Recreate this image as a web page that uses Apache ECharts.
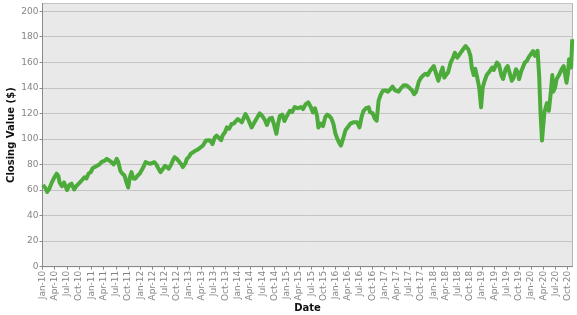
<!DOCTYPE html>
<html>
<head>
<meta charset="utf-8">
<script src="https://cdn.jsdelivr.net/npm/echarts@6/dist/echarts.min.js"></script>
<style>
html,body{margin:0;padding:0;background:#fff;}
#chart{width:577px;height:315px;}
</style>
</head>
<body>
<div id="chart"></div>
<script>
const monthNames = ['Jan','Feb','Mar','Apr','May','Jun','Jul','Aug','Sep','Oct','Nov','Dec'];
const yTicks = [0,20,40,60,80,100,120,140,160,180,200];

const dates = [
'2010-01-04','2010-01-20','2010-02-05','2010-02-20','2010-03-10','2010-03-25','2010-04-15','2010-04-28','2010-05-07','2010-05-25','2010-06-10','2010-06-20','2010-07-02','2010-07-20','2010-08-05','2010-08-25','2010-09-10','2010-09-28','2010-10-08','2010-10-25','2010-11-10','2010-11-25','2010-12-10','2010-12-28',
'2011-01-10','2011-01-28','2011-02-10','2011-02-28','2011-03-15','2011-03-25','2011-04-10','2011-04-25','2011-05-10','2011-05-28','2011-06-15','2011-06-28','2011-07-08','2011-07-20','2011-08-05','2011-08-20','2011-09-05','2011-09-20','2011-10-03','2011-10-15','2011-10-28','2011-11-10','2011-11-25','2011-12-10','2011-12-28',
'2012-01-15','2012-01-30','2012-02-10','2012-02-28','2012-03-15','2012-03-30','2012-04-15','2012-04-30','2012-05-15','2012-06-01','2012-06-15','2012-07-05','2012-07-20','2012-08-01','2012-08-20','2012-09-05','2012-09-15','2012-10-05','2012-10-15','2012-11-05','2012-11-15','2012-12-05','2012-12-15','2012-12-31',
'2013-01-15','2013-02-01','2013-02-20','2013-03-10','2013-03-28','2013-04-15','2013-05-05','2013-05-20','2013-06-05','2013-06-24','2013-07-10','2013-07-25','2013-08-10','2013-08-28','2013-09-10','2013-09-25','2013-10-10','2013-10-28','2013-11-15','2013-11-30','2013-12-15','2013-12-31',
'2014-01-15','2014-01-31','2014-02-25','2014-03-15','2014-04-12','2014-04-28','2014-05-20','2014-06-12','2014-06-30','2014-07-20','2014-08-05','2014-08-25','2014-09-12','2014-09-25','2014-10-15','2014-10-28','2014-11-10','2014-11-28','2014-12-15','2014-12-28',
'2015-01-10','2015-01-25','2015-02-10','2015-02-28','2015-03-15','2015-03-25','2015-04-15','2015-05-01','2015-05-20','2015-06-10','2015-06-28','2015-07-15','2015-07-30','2015-08-15','2015-08-25','2015-09-10','2015-09-28','2015-10-15','2015-10-30','2015-11-15','2015-11-30','2015-12-15','2015-12-31',
'2016-01-15','2016-01-28','2016-02-10','2016-02-25','2016-03-15','2016-03-30','2016-04-20','2016-05-12','2016-05-25','2016-06-10','2016-06-27','2016-07-15','2016-07-28','2016-08-15','2016-09-05','2016-09-15','2016-10-05','2016-10-20','2016-11-04','2016-11-18','2016-12-05','2016-12-20',
'2017-01-10','2017-01-28','2017-02-15','2017-03-01','2017-03-20','2017-04-15','2017-05-05','2017-05-25','2017-06-15','2017-07-05','2017-07-25','2017-08-10','2017-08-25','2017-09-15','2017-10-01','2017-10-20','2017-11-05','2017-11-20','2017-12-05','2017-12-20',
'2018-01-05','2018-01-20','2018-02-08','2018-02-25','2018-03-10','2018-03-23','2018-04-05','2018-04-20','2018-05-10','2018-05-25','2018-06-10','2018-06-28','2018-07-20','2018-08-10','2018-08-30','2018-09-20','2018-10-05','2018-10-15','2018-10-30','2018-11-10','2018-11-25','2018-12-10','2018-12-24',
'2019-01-05','2019-01-20','2019-02-05','2019-02-25','2019-03-15','2019-03-28','2019-04-20','2019-05-05','2019-05-25','2019-06-05','2019-06-25','2019-07-10','2019-07-25','2019-08-10','2019-08-25','2019-09-10','2019-09-25','2019-10-03','2019-10-20','2019-11-15','2019-11-30','2019-12-15','2019-12-31',
'2020-01-17','2020-01-31','2020-02-19','2020-03-01','2020-03-12','2020-03-23','2020-04-01','2020-04-10','2020-04-28','2020-05-13','2020-05-28','2020-06-08','2020-06-15','2020-06-28','2020-07-10','2020-07-28','2020-08-18','2020-09-02','2020-09-23','2020-10-05','2020-10-12','2020-10-28','2020-11-05'
];

const values = [
64,62,58.5,61,66,69,72.8,71,66,63,66,65,60,64,65,60.5,63,65,66,68,70,69,72.8,74,
77,78,79,80,81.8,80.5,83,84.4,84,82,80,82,84.4,82,75,72.8,71.5,66,62,70,74,69,68.9,71,72.8,
76,79,81.8,81,80.5,82,81.8,80,77,74,75,79,78,76.7,80,84,85.7,84,83,80,78,81,84.4,86,
88.5,89.6,91,92,93.5,95,98.7,100,99,96,101,102.6,101,99,103,105,109,108,111.7,112,113,115.6,
115.6,113,119.5,116,109,112,116,120,118,115,111,116,116.5,112,104,112,118,119,114,117,
116,122,121,125,126,124,125,123.4,127,128.6,125,120.8,124,118,109,112,110,117,119,118,116,112,104,
100,97,94.8,100,107,109,112,113,112,113,109,118,122,124,124.7,121,120,116,114.3,130,135,137.7,
138,137,139,141,138,137,140,142,141.8,140,138,135,137,145,148,150,151,150,153,155,
157,158,145.5,152,155.8,148,150,152,160,163,167.5,163.6,167,170,172.7,170,165,156,150,155,148,140,124.7,
140,145.5,150,153,155.8,154,159.7,158,149.3,147,155,157,156,145.5,148,154.6,152,146.8,153,159.7,161,164,166.3,
168.8,165,169,150,120,98.7,110,120.8,128,122,136.3,150,137,140,146.8,150,154.6,157,144,153,162.4,156,178
];

function monthIndex(s){
  const p = s.split('-').map(Number);
  const dim = new Date(p[0], p[1], 0).getDate();
  return (p[0]-2010)*12 + (p[1]-1) + (p[2]-1)/dim;
}
const seriesData = dates.map((d,i)=>[monthIndex(d), values[i]]);

const chart = echarts.init(document.getElementById('chart'), null, {renderer:'canvas'});
const labelColor = '#858585';
const font = 'DejaVu Sans';
chart.setOption({
  animation:false,
  grid:{left:42.5, right:4.5, top:3.5, bottom:48.3, containLabel:false, outerBoundsMode:'none',
        show:true, backgroundColor:'#e9e9e9', borderColor:'#b4b4b4', borderWidth:1},
  xAxis:{
    type:'value', min:0, max:130.2, interval:3,
    name:'Date', nameLocation:'middle', nameGap:36.5, nameMoveOverlap:false,
    nameTextStyle:{fontFamily:font, fontWeight:'bold', fontSize:10, color:'#111'},
    axisLine:{show:true, lineStyle:{color:'#8a8a8a', width:1}},
    axisTick:{show:true, length:3, lineStyle:{color:'#8a8a8a'}},
    splitLine:{show:false},
    axisLabel:{
      rotate:90, margin:4, fontFamily:font, fontSize:9, color:labelColor,
      showMaxLabel:false, hideOverlap:false,
      formatter:function(v){
        const r = Math.round(v);
        if (Math.abs(v-r)>1e-6 || r%3!==0) return '';
        const yy = 10 + Math.floor(r/12);
        return monthNames[r%12] + '-' + (yy<10?'0'+yy:yy);
      }
    }
  },
  yAxis:{
    type:'value', min:0, max:206, interval:20,
    name:'Closing Value ($)', nameLocation:'middle', nameGap:26, nameMoveOverlap:false,
    nameTextStyle:{fontFamily:font, fontWeight:'bold', fontSize:10, color:'#111'},
    axisLine:{show:true, lineStyle:{color:'#8a8a8a', width:1}},
    axisTick:{show:true, length:3, lineStyle:{color:'#8a8a8a'}},
    splitLine:{show:true, lineStyle:{color:'#c4c4c4', width:1}},
    axisLabel:{
      margin:4, fontFamily:font, fontSize:9, color:labelColor, showMaxLabel:false,
      formatter:function(v){ return yTicks.indexOf(Math.round(v))>=0 && Math.abs(v-Math.round(v))<1e-6 ? String(v) : ''; }
    }
  },
  series:[{
    type:'line', data:seriesData, showSymbol:false, symbol:'none',
    lineStyle:{color:'#4cab3b', width:4, join:'round'},
    clip:true
  }]
});
</script>
</body>
</html>
